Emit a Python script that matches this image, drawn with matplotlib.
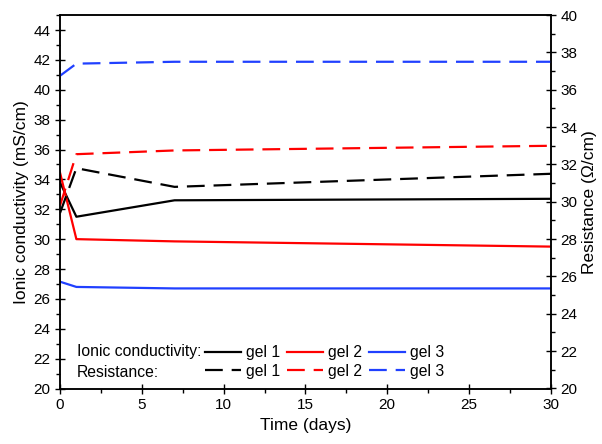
import matplotlib
matplotlib.use("Agg")
import matplotlib.pyplot as plt
from matplotlib.ticker import MultipleLocator

plt.rcParams['font.family'] = ['Liberation Sans', 'DejaVu Sans']

# data
days = [0, 1, 7, 30]
cond_gel1 = [33.8, 31.5, 32.6, 32.7]
cond_gel2 = [34.45, 30.0, 29.85, 29.5]
cond_gel3 = [27.15, 26.8, 26.7, 26.7]
res_gel1 = [29.4, 31.8, 30.8, 31.5]
res_gel2 = [29.8, 32.55, 32.75, 33.0]
res_gel3 = [36.75, 37.4, 37.5, 37.5]

colors = ['black', '#ff0000', '#2040ff']
gels = ['gel 1', 'gel 2', 'gel 3']

fig = plt.figure(figsize=(6.02, 4.44), dpi=100)
ax = fig.add_axes([0.0997, 0.125, 0.8153, 0.841])
ax2 = ax.twinx()

lines_c = []
for y, c in zip([cond_gel1, cond_gel2, cond_gel3], colors):
    l, = ax.plot(days, y, color=c, lw=1.6)
    lines_c.append(l)
lines_r = []
for y, c in zip([res_gel1, res_gel2, res_gel3], colors):
    l, = ax2.plot(days, y, color=c, lw=1.6, dashes=(8, 4))
    lines_r.append(l)

ax.set_xlim(0, 30)
ax.set_ylim(20, 45)
ax2.set_ylim(20, 40)

ax.xaxis.set_major_locator(MultipleLocator(5))
ax.xaxis.set_minor_locator(MultipleLocator(2.5))
ax.yaxis.set_major_locator(MultipleLocator(2))
ax.yaxis.set_minor_locator(MultipleLocator(1))
ax2.yaxis.set_major_locator(MultipleLocator(2))
ax2.yaxis.set_minor_locator(MultipleLocator(1))

for a in (ax, ax2):
    a.tick_params(which='major', direction='inout', length=7, width=1, labelsize=11)
    a.tick_params(which='minor', direction='out', length=3, width=1)
    for s in a.spines.values():
        s.set_linewidth(1.1)

ax.set_xlabel('Time (days)', fontsize=12.5)
ax.set_ylabel('Ionic conductivity (mS/cm)', fontsize=12.5, labelpad=3)
ax2.set_ylabel('Resistance (\u03a9/cm)', fontsize=12.5, labelpad=3)

# legend: two rows, header text on the left
ax.text(0.035, 0.098, 'Ionic conductivity:', transform=ax.transAxes,
        fontsize=11.3, va='center')
ax.text(0.035, 0.044, 'Resistance:', transform=ax.transAxes,
        fontsize=11.3, va='center')
handles = []
labels = []
for lc, lr, g in zip(lines_c, lines_r, gels):
    handles += [lc, lr]
    labels += [g, g]
ax.legend(handles, labels, ncol=3, loc='center left',
          bbox_to_anchor=(0.28, 0.071), frameon=False, fontsize=11.3,
          handlelength=2.3, handletextpad=0.3, columnspacing=0.45,
          labelspacing=0.2, borderpad=0)

fig.savefig('out.png', dpi=100)
